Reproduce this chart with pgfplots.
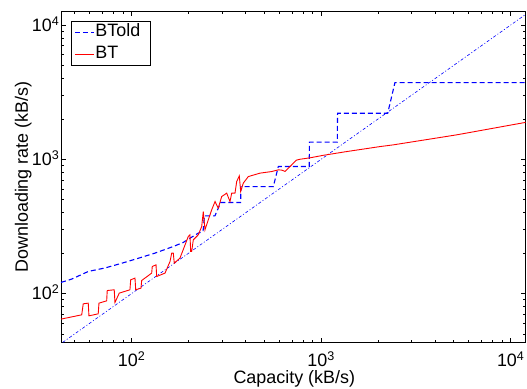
\documentclass[border=0pt]{standalone}
\usepackage{fontspec}
\setmainfont{Liberation Sans}
\usepackage{pgfplots}
\pgfplotsset{compat=1.18}
\begin{document}
\begin{tikzpicture}
\begin{axis}[
 name=ax,
 xmode=log, ymode=log,
 scale only axis, width=465bp, height=331.7bp,
 xmin=42.35, xmax=12000, ymin=42.95, ymax=12650,
 xtick={100,1000,10000},
 xticklabels={10\textsuperscript{2},10\textsuperscript{3},10\textsuperscript{4}},
 ytick={100,1000,10000},
 yticklabels={10\textsuperscript{2},10\textsuperscript{3},10\textsuperscript{4}},
 minor xtick={50,60,70,80,90,200,300,400,500,600,700,800,900,2000,3000,4000,5000,6000,7000,8000,9000},
 minor ytick={50,60,70,80,90,200,300,400,500,600,700,800,900,2000,3000,4000,5000,6000,7000,8000,9000},
 major tick length=5bp, minor tick length=3bp,
 tick style={black, line width=0.6bp},
 axis line style={line width=0.8bp},
 tick label style={font=\fontsize{18}{21}\selectfont},
 xticklabel style={anchor=base, yshift=-24bp, inner sep=0pt},
 yticklabel style={anchor=base east, inner sep=0pt, xshift=-1.5bp, yshift=-6.4bp},
 xlabel={Capacity (kB/s)}, ylabel={Downloading rate (kB/s)},
 label style={font=\fontsize{18}{21}\selectfont},
 xlabel style={at={(axis description cs:0.502,-0.1236)}, anchor=base, inner sep=0pt},
 ylabel style={at={(axis description cs:-0.071,0.5)}, anchor=base, inner sep=0pt},
 legend style={at={(axis description cs:0.0215,0.972)}, anchor=north west, draw=black, line width=0.8bp, fill=white,
   font=\fontsize{18}{21}\selectfont, inner xsep=3bp, inner ysep=3bp, row sep=4.7bp,
   nodes={inner xsep=1bp, inner ysep=0bp, text height=13bp, text depth=4bp}},
 legend cell align=left,
 legend image code/.code={\draw[#1] (0bp,0bp) -- (19bp,0bp);},
]
% diagonal y = x
\addplot[blue, line width=0.6bp, dash pattern=on 3bp off 2bp on 1bp off 2bp, forget plot] coordinates {(40,40) (13000,13000)};
% BTold
\addplot[blue, line width=1.1bp, dash pattern=on 5bp off 3bp] coordinates {
(42.4,121) (48.2,128) (59,146) (72.3,155) (88.5,168) (108.3,183) (132.7,200) (165.8,224) (187,240) (200,255) (225,282) (238,290) (242,379) (275,379) (295,476) (376,476) (377,626) (559,626) (594,883) (865,883) (866,1340) (1216,1340) (1220,2203) (2244,2203) (2450,3724) (12040,3724)
};
\addlegendentry{BTold\kern6bp}
% BT
\addplot[red, line width=0.9bp] coordinates {
(42.4,64.5) (54.5,69.4) (55.5,83.8) (59.0,84.8) (59.5,68.2) (66.6,70.6) (67.2,84.8) (73.8,88.2) (74.3,105.3) (80.9,106.6) (81.6,85.7) (86.0,100.7) (97.9,106.6) (98.8,126.5) (104.1,130.2) (105.0,106.6) (112.0,109.7) (112.9,125.0) (127.5,141.9) (128.4,158.9) (134.4,163.6) (135.5,133.9) (149.9,141.9) (159.3,173.1) (162.6,199.9) (165.8,199.9) (167.8,168.4) (179.8,183.5) (198.9,265.8) (203.0,273.6) (204.8,205.5) (207.3,205.5) (211.4,251.1) (224.6,273.6) (234.1,315.4) (238.7,407.9) (243.7,298.1) (253.7,353.9) (264.4,420.2) (275.3,484.2) (286.4,432.6) (298.5,527.6) (317.2,559.2) (330.2,484.2) (337.1,559.2) (350.9,559.2) (358.2,682.3) (369.7,752.1) (376.0,574.7) (388.1,663.7) (412.4,743.1) (475.3,788.1) (548.0,809.9) (593.7,834) (620,830) (644,812) (685,882) (740,985) (773,1000) (873,1025) (1026,1070) (1363,1141) (2044,1243) (2402,1280) (5188,1520) (12150,1889)
};
\addlegendentry{BT}
\end{axis}
\pgfresetboundingbox
\path ([shift={(-61bp,-46bp)}]ax.south west) rectangle ([shift={(1.3bp,11.3bp)}]ax.north east);
\end{tikzpicture}
\end{document}
